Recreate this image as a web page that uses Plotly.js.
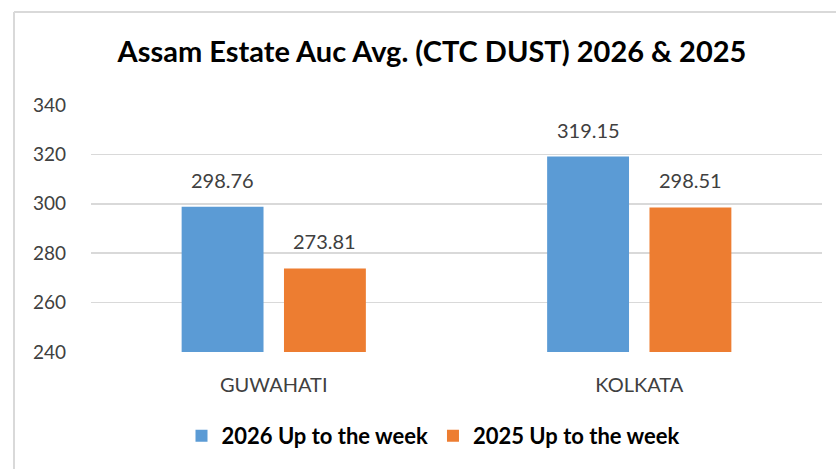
<!DOCTYPE html>
<html>
<head>
<meta charset="utf-8">
<script src="https://cdn.plot.ly/plotly-3.0.1.min.js"></script>
<style>
html,body{margin:0;padding:0;background:#fff;}
#chart{width:836px;height:469px;}
</style>
</head>
<body>
<div id="chart"></div>
<script>
const categories = ["GUWAHATI", "KOLKATA"];
const seriesNames = ["2026 Up to the week", "2025 Up to the week"];
const values2026 = [298.76, 319.15];
const values2025 = [273.81, 298.51];
const yTicks = [240, 260, 280, 300, 320, 340];
const chartTitle = "Assam Estate Auc Avg. (CTC DUST) 2026 & 2025";

const W = 836, H = 469;
const L = 91, R = 14, T = 105, B = 117;
const pw = W - L - R, ph = H - T - B;
const px = v => (v - L) / pw;
const py = v => (H - B - v) / ph;
const FONT = "Lato, 'Open Sans', sans-serif";

const labelFont = {family: FONT, size: 20, color: "#404040"};

const traces = [
  {type: "bar", name: seriesNames[0], x: categories, y: values2026,
   marker: {color: "#5B9BD5"}, hoverinfo: "none"},
  {type: "bar", name: seriesNames[1], x: categories, y: values2025,
   marker: {color: "#ED7D31"}, hoverinfo: "none"}
];

// bar centre offsets (in category units) for the two grouped series
const bargap = 0.44, bargroupgap = 0.2;
const slot = (1 - bargap) / 2;
const offsets = [-slot / 2, slot / 2];
const annotations = [];
[values2026, values2025].forEach((vals, s) => {
  vals.forEach((v, i) => {
    annotations.push({x: i + offsets[s], y: v, xref: "x", yref: "y", text: v.toFixed(2),
      showarrow: false, yanchor: "bottom", yshift: 13, font: labelFont});
  });
});

const layout = {
  width: W, height: H,
  margin: {l: L, r: R, t: T, b: B, pad: 0},
  paper_bgcolor: "#ffffff", plot_bgcolor: "#ffffff",
  barmode: "group", bargap: bargap, bargroupgap: bargroupgap,
  title: {text: "<b>" + chartTitle + "</b>", xref: "paper", x: px(432), xanchor: "center",
          yref: "container", y: 1 - 52 / H, yanchor: "middle",
          font: {family: FONT, size: 29, color: "#000000"}},
  xaxis: {type: "category", showgrid: false, zeroline: false, showline: false, ticks: "",
          tickfont: {family: FONT, size: 20, color: "#404040"},
          ticklabelstandoff: 19},
  yaxis: {range: [240, 340], tickvals: yTicks, ticktext: yTicks.map(String),
          showgrid: true, gridcolor: "#d9d9d9", gridwidth: 1.5, zeroline: false, showline: false,
          ticks: "", tickfont: {family: FONT, size: 19, color: "#404040"},
          ticklabelstandoff: 24},
  annotations: annotations,
  showlegend: true,
  legend: {orientation: "h", xref: "paper", x: px(433), xanchor: "center", yref: "container", y: 1 - 436 / H, yanchor: "middle",
           font: {family: FONT, size: 22, color: "#000000", weight: "bold"},
           itemwidth: 30, traceorder: "normal", itemclick: false},
  shapes: [
    {type: "line", xref: "paper", yref: "paper", x0: px(14), x1: px(14), y0: py(469), y1: py(12),
     line: {color: "#d9d9d9", width: 2}},
    {type: "line", xref: "paper", yref: "paper", x0: px(14), x1: px(840), y0: py(12), y1: py(12),
     line: {color: "#d9d9d9", width: 2}}
  ]
};

Plotly.newPlot("chart", traces, layout, {displayModeBar: false, staticPlot: true});
</script>
</body>
</html>
